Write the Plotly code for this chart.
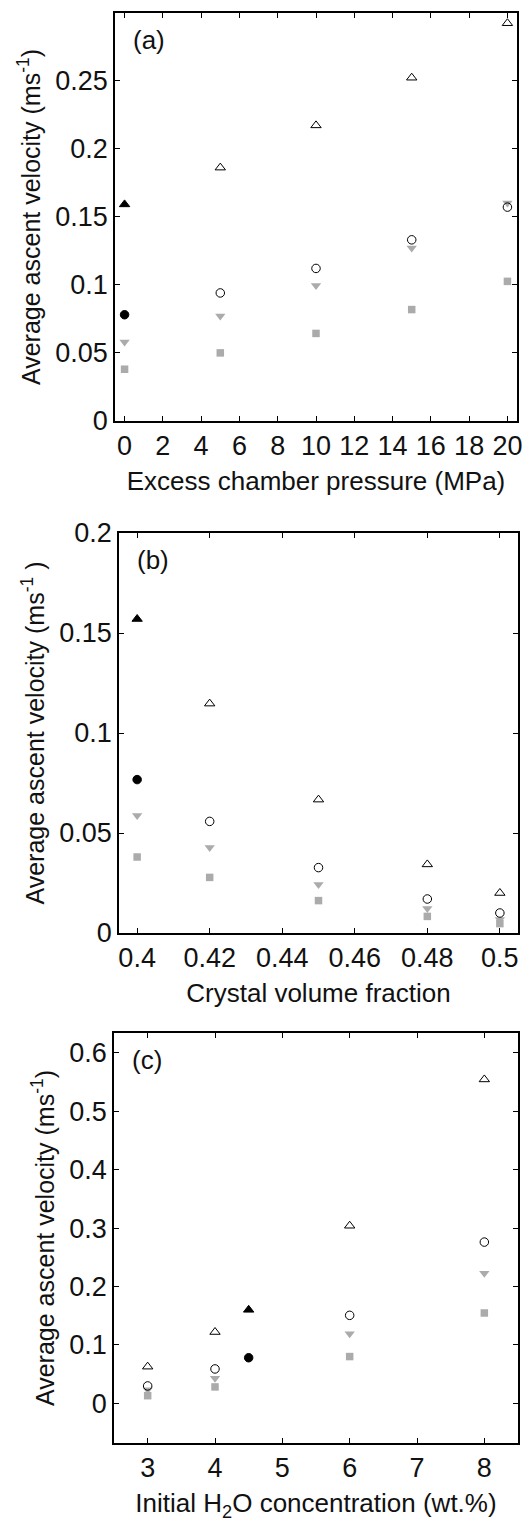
import plotly.graph_objects as go

# ---------------- data ----------------
# Panel (a): excess chamber pressure (MPa)
a_x = [0, 5, 10, 15, 20]
a_base = 0
a_tri = [0.159, 0.186, 0.217, 0.252, 0.292]
a_circ = [0.078, 0.094, 0.112, 0.133, 0.157]
a_down = [0.058, 0.077, 0.0995, 0.127, 0.160]
a_sq = [0.038, 0.050, 0.0643, 0.0818, 0.1025]

# Panel (b): crystal volume fraction
b_x = [0.40, 0.42, 0.45, 0.48, 0.50]
b_base = 0.40
b_tri = [0.157, 0.1147, 0.0667, 0.0343, 0.020]
b_circ = [0.0767, 0.0558, 0.0327, 0.017, 0.010]
b_down = [0.0588, 0.0427, 0.0243, 0.0122, 0.0067]
b_sq = [0.038, 0.0278, 0.0162, 0.0083, 0.0047]

# Panel (c): initial H2O concentration (wt.%)
c_x = [3, 4, 4.5, 6, 8]
c_base = 4.5
c_tri = [0.0627, 0.122, 0.160, 0.304, 0.5545]
c_circ = [0.0297, 0.0588, 0.078, 0.1506, 0.276]
c_x_gray = [3, 4, 6, 8]
c_down = [0.023, 0.043, 0.119, 0.2225]
c_sq = [0.013, 0.028, 0.080, 0.1546]

a_xticks = [0, 2, 4, 6, 8, 10, 12, 14, 16, 18, 20]
a_yticks = [0, 0.05, 0.1, 0.15, 0.2, 0.25]
a_ylabels = ["0", "0.05", "0.1", "0.15", "0.2", "0.25"]
b_xticks = [0.4, 0.42, 0.44, 0.46, 0.48, 0.5]
b_xlabels = ["0.4", "0.42", "0.44", "0.46", "0.48", "0.5"]
b_yticks = [0, 0.05, 0.1, 0.15, 0.2]
b_ylabels = ["0", "0.05", "0.1", "0.15", "0.2"]
c_xticks = [3, 4, 5, 6, 7, 8]
c_yticks = [0, 0.1, 0.2, 0.3, 0.4, 0.5, 0.6]
c_ylabels = ["0", "0.1", "0.2", "0.3", "0.4", "0.5", "0.6"]

GRAY = "#ababab"
FONT = "Liberation Sans, Arial, sans-serif"

fig = go.Figure()


def add_panel(xs, base, tri, circ, gx, down, sq, xa, ya):
    tri_sym = ["triangle-up" if x == base else "triangle-up-open" for x in xs]
    circ_sym = ["circle" if x == base else "circle-open" for x in xs]
    fig.add_trace(go.Scatter(x=gx, y=sq, mode="markers", xaxis=xa, yaxis=ya,
                             marker=dict(symbol="square", size=7.5, color=GRAY,
                                         line=dict(width=0)), showlegend=False))
    fig.add_trace(go.Scatter(x=gx, y=down, mode="markers", xaxis=xa, yaxis=ya,
                             marker=dict(symbol="triangle-down", size=9, color=GRAY,
                                         line=dict(width=0)), showlegend=False))
    fig.add_trace(go.Scatter(x=xs, y=circ, mode="markers", xaxis=xa, yaxis=ya,
                             marker=dict(symbol=circ_sym, size=8.5, color="black",
                                         line=dict(width=1, color="black")),
                             showlegend=False))
    fig.add_trace(go.Scatter(x=xs, y=tri, mode="markers", xaxis=xa, yaxis=ya,
                             marker=dict(symbol=tri_sym, size=9, color="black",
                                         line=dict(width=1, color="black")),
                             showlegend=False))


add_panel(a_x, a_base, a_tri, a_circ, a_x, a_down, a_sq, "x", "y")
add_panel(b_x, b_base, b_tri, b_circ, b_x, b_down, b_sq, "x2", "y2")
add_panel(c_x, c_base, c_tri, c_circ, c_x_gray, c_down, c_sq, "x3", "y3")

H = 1522.0
W = 530.0


def ax_common():
    return dict(showline=True, linecolor="black", linewidth=1.5, mirror="ticks",
                ticks="inside", ticklen=5, tickwidth=1, tickcolor="black",
                showgrid=False, zeroline=False, automargin=False,
                tickfont=dict(family=FONT, size=27, color="#111"))


title_font = dict(family=FONT, size=26, color="#111")
ytitle_font = dict(family=FONT, size=25, color="#111")

fig.update_layout(
    width=530, height=1522,
    margin=dict(l=0, r=0, t=0, b=0),
    paper_bgcolor="white", plot_bgcolor="white",
    showlegend=False,
    xaxis=dict(**ax_common(), domain=[115 / W, 517 / W], anchor="y",
               range=[-0.5, 20.5], tickvals=a_xticks,
               title=dict(text="Excess chamber pressure (MPa)", font=title_font, standoff=12)),
    yaxis=dict(**ax_common(), domain=[1 - 421 / H, 1 - 13 / H], anchor="x",
               range=[0, 0.2995], tickvals=a_yticks, ticktext=a_ylabels,
               title=dict(text="Average ascent velocity (ms<sup>-1</sup>)", font=ytitle_font, standoff=8)),
    xaxis2=dict(**ax_common(), domain=[119 / W, 518 / W], anchor="y2",
                range=[0.395, 0.505], tickvals=b_xticks, ticktext=b_xlabels,
                title=dict(text="Crystal volume fraction", font=title_font, standoff=12)),
    yaxis2=dict(**ax_common(), domain=[1 - 933 / H, 1 - 533 / H], anchor="x2",
                range=[0, 0.2], tickvals=b_yticks, ticktext=b_ylabels,
                title=dict(text="Average ascent velocity (ms<sup>-1</sup> )", font=ytitle_font, standoff=8)),
    xaxis3=dict(**ax_common(), domain=[114 / W, 518 / W], anchor="y3",
                range=[2.5, 8.5], tickvals=c_xticks,
                title=dict(text="Initial H<sub>2</sub>O concentration (wt.%)", font=title_font, standoff=12)),
    yaxis3=dict(**ax_common(), domain=[1 - 1443 / H, 1 - 1033 / H], anchor="x3",
                range=[-0.068, 0.634], tickvals=c_yticks, ticktext=c_ylabels,
                title=dict(text="Average ascent velocity (ms<sup>-1</sup>)", font=ytitle_font, standoff=8)),
)

for lab, xr, yr in [("(a)", "x", "y"), ("(b)", "x2", "y2"), ("(c)", "x3", "y3")]:
    fig.add_annotation(text=lab, xref=xr + " domain", yref=yr + " domain",
                       x=0.04, y=0.975, xanchor="left", yanchor="top",
                       showarrow=False, font=dict(family=FONT, size=26, color="#111"))

fig.write_html(
    "out.html",
    config={"displayModeBar": False},
    post_script="document.body.style.margin='0';document.body.style.overflow='hidden';",
)
